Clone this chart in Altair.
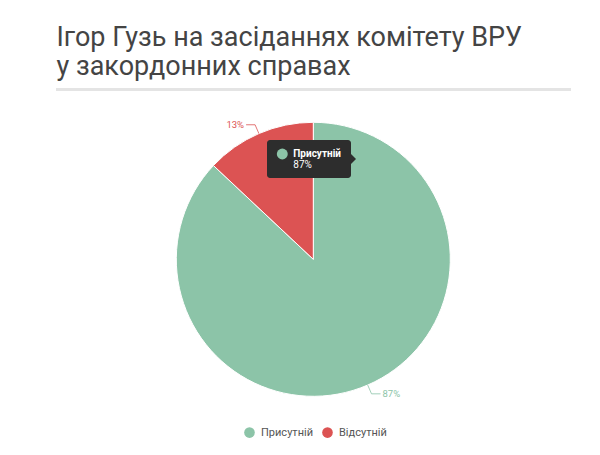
import math
import altair as alt
import pandas as pd

# ---- data ----
categories = ["Присутній", "Відсутній"]
values = [87, 13]
colors = ["#8cc4a8", "#dc5353"]
title_lines = ["Ігор Гузь на засіданнях комітету ВРУ", "у закордонних справах"]

# ---- layout constants (chart coordinates) ----
CX, CY, R = 305.3, 251.3, 137.0
ELBOW = 1.07           # radial elbow, in radius units
HSEG = 9.0 / R         # horizontal segment, in radius units

pie_df = pd.DataFrame({"cat": categories, "val": values, "idx": list(range(len(values)))})
pie_df["label"] = [f"{v}%" for v in values]

# connector geometry derived from the values
total = float(sum(values))
cum = 0.0
line_rows, lab_rows = [], []
for c, v in zip(categories, values):
    a = 2 * math.pi * (cum + v / 2.0) / total
    cum += v
    sx, cy_ = math.sin(a), math.cos(a)
    side = 1 if sx >= 0 else -1
    p0 = (sx, cy_)
    p1 = (ELBOW * sx, ELBOW * cy_)
    p2 = (p1[0] + side * HSEG, p1[1])
    for k, p in enumerate([p0, p1, p2]):
        line_rows.append({"cat": c, "step": k, "x": p[0], "y": p[1]})
    lab_rows.append({"cat": c, "x": p2[0], "y": p2[1], "label": f"{v}%", "side": side})
line_df = pd.DataFrame(line_rows)
lab_df = pd.DataFrame(lab_rows)

xs = alt.Scale(domain=[-1, 1], range=[CX - R, CX + R])
ys = alt.Scale(domain=[-1, 1], range=[CY + R, CY - R])
cscale = alt.Scale(domain=categories, range=colors)

one = alt.Data(values=[{}])

pie = alt.Chart(pie_df).mark_arc(
    outerRadius=R, stroke="#ffffff", strokeWidth=1
).encode(
    theta=alt.Theta("val:Q", stack=True),
    color=alt.Color(
        "cat:N", scale=cscale, sort=categories,
        legend=alt.Legend(
            title=None, orient="none", direction="horizontal",
            legendX=236, legendY=419, symbolType="circle", symbolSize=113,
            symbolStrokeWidth=0, labelFont="Roboto", labelFontSize=11,
            labelColor="#555555", labelOffset=6, columnPadding=9, padding=0,
        ),
    ),
    order=alt.Order("idx:Q"),
    x=alt.value(CX), y=alt.value(CY),
)

connectors = alt.Chart(line_df).mark_line(strokeWidth=0.8).encode(
    x=alt.X("x:Q", scale=xs, axis=None),
    y=alt.Y("y:Q", scale=ys, axis=None),
    detail="cat:N",
    order="step:Q",
    color=alt.Color("cat:N", scale=cscale, legend=None),
)

lab_left = alt.Chart(lab_df).transform_filter("datum.side < 0").mark_text(
    align="right", baseline="middle", dx=-2, font="Roboto", fontSize=9.5
).encode(
    x=alt.X("x:Q", scale=xs, axis=None),
    y=alt.Y("y:Q", scale=ys, axis=None),
    text="label:N",
    color=alt.Color("cat:N", scale=cscale, legend=None),
)
lab_right = alt.Chart(lab_df).transform_filter("datum.side > 0").mark_text(
    align="left", baseline="middle", dx=2, font="Roboto", fontSize=9.5
).encode(
    x=alt.X("x:Q", scale=xs, axis=None),
    y=alt.Y("y:Q", scale=ys, axis=None),
    text="label:N",
    color=alt.Color("cat:N", scale=cscale, legend=None),
)

# ---- title ----
t1 = alt.Chart(one).mark_text(
    align="left", baseline="alphabetic", font="Roboto", fontSize=27, color="#444444"
).encode(x=alt.value(48.5), y=alt.value(38), text=alt.value(title_lines[0]))
t2 = alt.Chart(one).mark_text(
    align="left", baseline="alphabetic", font="Roboto", fontSize=27, color="#444444"
).encode(x=alt.value(48.5), y=alt.value(67), text=alt.value(title_lines[1]))
trule = alt.Chart(one).mark_rule(color="#e4e4e4", strokeWidth=3).encode(
    x=alt.value(48), x2=alt.value(563), y=alt.value(81.5)
)

# ---- tooltip overlay ----
tip_box = alt.Chart(one).mark_rect(color="#2d2d2d", cornerRadius=3).encode(
    x=alt.value(259), x2=alt.value(343), y=alt.value(132), y2=alt.value(170)
)
tip_arrow = alt.Chart(one).mark_point(
    shape="M0,-1L1,0L0,1Z", filled=True, color="#2d2d2d", size=100, opacity=1
).encode(x=alt.value(343), y=alt.value(151))
tip_dot = alt.Chart(one).mark_point(
    shape="circle", filled=True, color=colors[0], size=120, opacity=1
).encode(x=alt.value(274.3), y=alt.value(146))
tip_name = alt.Chart(one).mark_text(
    align="left", baseline="alphabetic", font="Roboto", fontSize=10,
    fontWeight="bold", color="#ffffff"
).encode(x=alt.value(285.3), y=alt.value(148.5), text=alt.value(categories[0]))
tip_val = alt.Chart(one).mark_text(
    align="left", baseline="alphabetic", font="Roboto", fontSize=10, color="#ffffff"
).encode(x=alt.value(285.3), y=alt.value(160), text=alt.value(f"{values[0]}%"))

chart = alt.layer(
    t1, t2, trule, pie, connectors, lab_left, lab_right,
    tip_box, tip_arrow, tip_dot, tip_name, tip_val
).resolve_scale(color="independent").properties(
    width=584, height=439, padding=0,
    autosize=alt.AutoSizeParams(type="none"),
).configure_view(stroke=None)

chart.save("out.html", embed_options={"renderer": "svg", "actions": False})
